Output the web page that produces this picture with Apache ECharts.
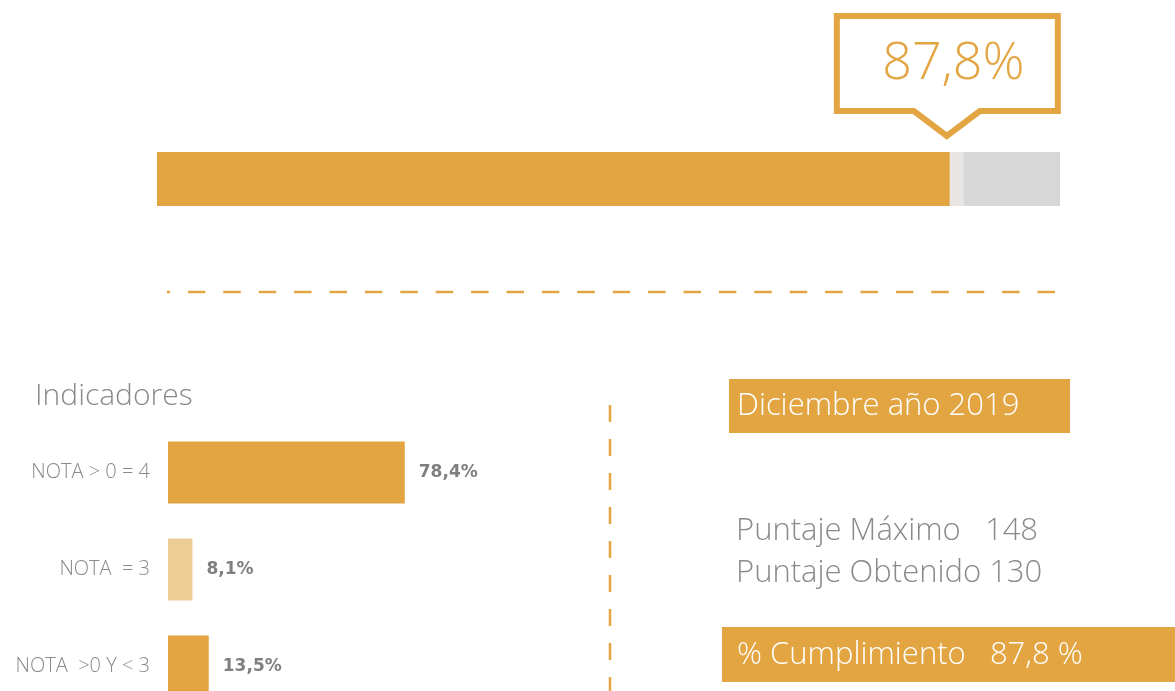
<!DOCTYPE html>
<html>
<head>
<meta charset="utf-8">
<script src="https://cdn.jsdelivr.net/npm/echarts@6/dist/echarts.min.js"></script>
<style>
  html, body { margin: 0; padding: 0; background: #fff; }
  #chart { width: 1175px; height: 691px; }
</style>
</head>
<body>
<div id="chart"></div>
<script>
// progress bar (percent of max score)
const progressValue = [87.8];
const separatorValue = [1.5];
const remainingValue = [10.7];

// indicators
const indicatorNames = ["NOTA > 0 = 4", "NOTA  = 3", "NOTA  >0 Y < 3"];
const indicatorValues = [78.4, 8.1, 13.5];

// right panel
const periodLabel = ["Diciembre año 2019"];
const scoreLabels = ["Puntaje Máximo  ", "Puntaje Obtenido"];
const scoreValues = [148, 130];
const complianceLabel = ["% Cumplimiento "];
const complianceValue = [87.8];

const ORANGE = "#E2A541";
const LIGHT = "#EDCD96";
const GREY_TEXT = "#8A8A8A";
const FONT = "'Open Sans', 'Noto Sans', sans-serif";

const fmt = (v) => v.toFixed(1).replace(".", ",");

const chart = echarts.init(document.getElementById("chart"));

const option = {
  animation: false,
  textStyle: { fontFamily: FONT },
  grid: [
    { left: 157, width: 903, top: 152, height: 54, outerBoundsMode: "none" },
    { left: 168, width: 302, top: 424, height: 291, outerBoundsMode: "none" },
  ],
  xAxis: [
    { gridIndex: 0, type: "value", min: 0, max: 100, show: false },
    { gridIndex: 1, type: "value", min: 0, max: 100, show: false },
  ],
  yAxis: [
    { gridIndex: 0, type: "category", data: ["total"], show: false },
    {
      gridIndex: 1,
      type: "category",
      data: indicatorNames,
      inverse: true,
      axisLine: { show: false },
      axisTick: { show: false },
      axisLabel: {
        color: GREY_TEXT,
        fontSize: 20,
        fontWeight: 300,
        fontFamily: FONT,
        margin: 18,
      },
    },
  ],
  series: [
    {
      type: "bar",
      stack: "p",
      xAxisIndex: 0,
      yAxisIndex: 0,
      barWidth: 54,
      data: progressValue,
      itemStyle: { color: ORANGE },
    },
    {
      type: "bar",
      stack: "p",
      xAxisIndex: 0,
      yAxisIndex: 0,
      data: separatorValue,
      itemStyle: { color: "#E9E5E3" },
    },
    {
      type: "bar",
      stack: "p",
      xAxisIndex: 0,
      yAxisIndex: 0,
      data: remainingValue,
      itemStyle: { color: "#D7D7D7" },
    },
    {
      // callout above the end of the progress bar
      type: "custom",
      xAxisIndex: 0,
      yAxisIndex: 0,
      clip: false,
      data: [[progressValue[0], 0]],
      renderItem: (params, api) => {
        const pt = api.coord([api.value(0), api.value(1)]);
        const band = api.size([0, 1])[1];
        const tipX = pt[0] - 3;
        const tipY = pt[1] - band / 2 - 16;
        const bottom = tipY - 25;
        const top = bottom - 95;
        const left = tipX - 110;
        const right = tipX + 111;
        const half = 33;
        return {
          type: "group",
          children: [
            {
              type: "polygon",
              shape: {
                points: [
                  [left, top],
                  [right, top],
                  [right, bottom],
                  [tipX + half, bottom],
                  [tipX, tipY],
                  [tipX - half, bottom],
                  [left, bottom],
                ],
              },
              style: { fill: "#fff", stroke: ORANGE, lineWidth: 6, lineJoin: "miter" },
            },
            {
              type: "text",
              x: (left + right) / 2 + 6,
              y: (top + bottom) / 2 + 1,
              style: {
                text: fmt(api.value(0)) + "%",
                fill: ORANGE,
                font: "300 52px " + FONT,
                align: "center",
                verticalAlign: "middle",
              },
            },
          ],
        };
      },
    },
    {
      type: "bar",
      xAxisIndex: 1,
      yAxisIndex: 1,
      barWidth: 62,
      data: indicatorValues.map((v, i) => ({
        value: v,
        itemStyle: { color: i === 1 ? LIGHT : ORANGE },
      })),
      label: {
        show: true,
        position: "right",
        distance: 14,
        color: "#7F7F7F",
        fontSize: 17,
        fontWeight: "bold",
        fontFamily: "'DejaVu Sans', sans-serif",
        formatter: (p) => fmt(p.value) + "%",
      },
    },
  ],
  graphic: [
    {
      type: "line",
      shape: { x1: 167, y1: 292, x2: 1056, y2: 292 },
      style: { stroke: ORANGE, lineWidth: 2.5, lineDash: [17.5, 17.9], lineDashOffset: 14.5 },
      silent: true,
    },
    {
      type: "text",
      left: 35,
      top: 381,
      style: { text: "Indicadores", fill: GREY_TEXT, font: "300 30px " + FONT },
    },
    {
      type: "line",
      shape: { x1: 610, y1: 405, x2: 610, y2: 691 },
      style: { stroke: ORANGE, lineWidth: 2.5, lineDash: [17, 17] },
      silent: true,
    },
    {
      type: "rect",
      shape: { x: 729, y: 379, width: 341, height: 54 },
      style: { fill: ORANGE },
    },
    {
      type: "text",
      x: 737,
      y: 406,
      style: {
        text: periodLabel[0],
        fill: "#fff",
        font: "300 31px " + FONT,
        verticalAlign: "middle",
      },
    },
    {
      type: "text",
      x: 736,
      y: 531,
      style: {
        text: scoreLabels[0] + " " + scoreValues[0],
        fill: GREY_TEXT,
        font: "300 31px " + FONT,
        verticalAlign: "middle",
      },
    },
    {
      type: "text",
      x: 736,
      y: 573,
      style: {
        text: scoreLabels[1] + " " + scoreValues[1],
        fill: GREY_TEXT,
        font: "300 31px " + FONT,
        verticalAlign: "middle",
      },
    },
    {
      type: "rect",
      shape: { x: 722, y: 627, width: 460, height: 55 },
      style: { fill: ORANGE },
    },
    {
      type: "text",
      x: 737,
      y: 655,
      style: {
        text: complianceLabel[0] + "  " + fmt(complianceValue[0]) + " %",
        fill: "#fff",
        font: "300 31px " + FONT,
        verticalAlign: "middle",
      },
    },
  ],
};

chart.setOption(option);
</script>
</body>
</html>
